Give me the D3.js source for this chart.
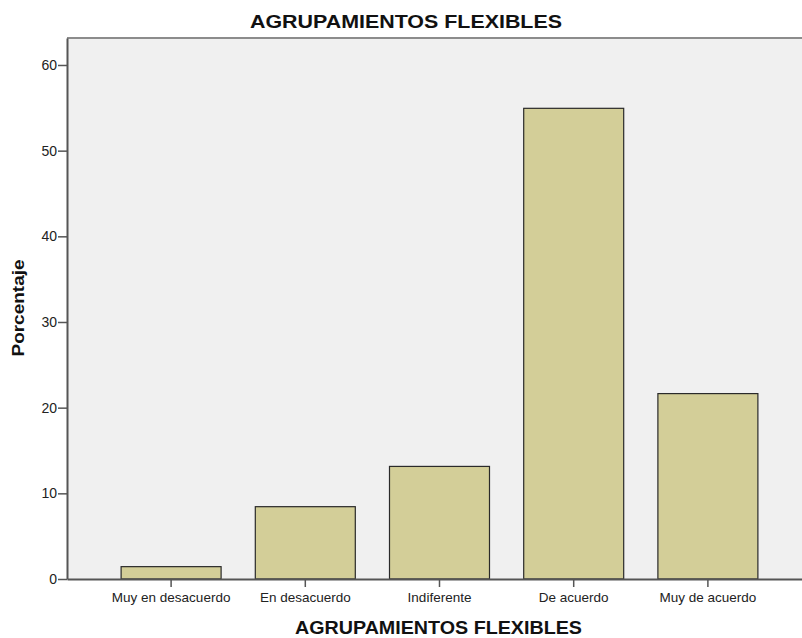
<!DOCTYPE html>
<html><head><meta charset="utf-8">
<script src="https://cdn.jsdelivr.net/npm/d3@7"></script>
<style>body{margin:0;background:#fff}svg{display:block;font-family:"Liberation Sans",Arial,sans-serif}</style>
</head><body><svg id="c" width="802" height="638"></svg>
<script>
const categories = ["Muy en desacuerdo","En desacuerdo","Indiferente","De acuerdo","Muy de acuerdo"];
const values = [1.5, 8.5, 13.2, 55.0, 21.7];
const yTicks = [0,10,20,30,40,50,60];
const chartTitle = "AGRUPAMIENTOS FLEXIBLES";
const xTitle = "AGRUPAMIENTOS FLEXIBLES";
const yTitle = "Porcentaje";

const svg = d3.select("#c");
const L = 67, T = 38, B = 579, R = 812;
const x = d3.scaleBand().domain(categories).range([L, R]).paddingInner(0.2474).paddingOuter(0.3995);
const y = d3.scaleLinear().domain([0, 63.15]).range([B, T]);

svg.append("rect").attr("x", L).attr("y", T).attr("width", R - L).attr("height", B - T).attr("fill", "#f0f0f0");
svg.append("line").attr("x1", L).attr("x2", R).attr("y1", T).attr("y2", T).attr("stroke", "#8c8c8c").attr("stroke-width", 2);

svg.append("g").selectAll("rect").data(values).join("rect")
  .attr("x", (d, i) => x(categories[i]) + 0.5)
  .attr("y", d => y(d) + 0.5)
  .attr("width", x.bandwidth() - 1)
  .attr("height", d => B - y(d) - 0.5)
  .attr("fill", "#d3ce98").attr("stroke", "#2a2a2a").attr("stroke-width", 1.2);

const ya = svg.append("g").attr("transform", `translate(${L},0)`)
  .call(d3.axisLeft(y).tickValues(yTicks).tickSize(9).tickSizeOuter(0).tickPadding(1).tickFormat(d3.format("d")));
ya.select(".domain").attr("stroke", "#555").attr("stroke-width", 2);
ya.selectAll(".tick line").attr("stroke", "#555").attr("stroke-width", 1.5);
ya.selectAll(".tick text").attr("font-size", 14).attr("fill", "#222").attr("font-family", "Liberation Sans, Arial, sans-serif");

const xa = svg.append("g").attr("transform", `translate(0,${B})`)
  .call(d3.axisBottom(x).tickSize(8).tickPadding(5).tickSizeOuter(0));
xa.select(".domain").attr("stroke", "#555").attr("stroke-width", 2);
xa.selectAll(".tick line").attr("stroke", "#555").attr("stroke-width", 1.5);
xa.selectAll(".tick text").attr("font-size", 13.5).attr("fill", "#222").attr("font-family", "Liberation Sans, Arial, sans-serif");

svg.append("text").attr("x", 406).attr("y", 27.5).attr("text-anchor", "middle")
  .attr("font-size", 19).attr("font-weight", "bold").attr("fill", "#111")
  .attr("textLength", 312).attr("lengthAdjust", "spacingAndGlyphs").text(chartTitle);
svg.append("text").attr("x", 438.5).attr("y", 634).attr("text-anchor", "middle")
  .attr("font-size", 19).attr("font-weight", "bold").attr("fill", "#111")
  .attr("textLength", 287).attr("lengthAdjust", "spacingAndGlyphs").text(xTitle);
svg.append("text").attr("transform", "translate(24,308) rotate(-90)").attr("text-anchor", "middle")
  .attr("font-size", 16).attr("font-weight", "bold").attr("fill", "#111")
  .attr("textLength", 97).attr("lengthAdjust", "spacingAndGlyphs").text(yTitle);
</script></body></html>
